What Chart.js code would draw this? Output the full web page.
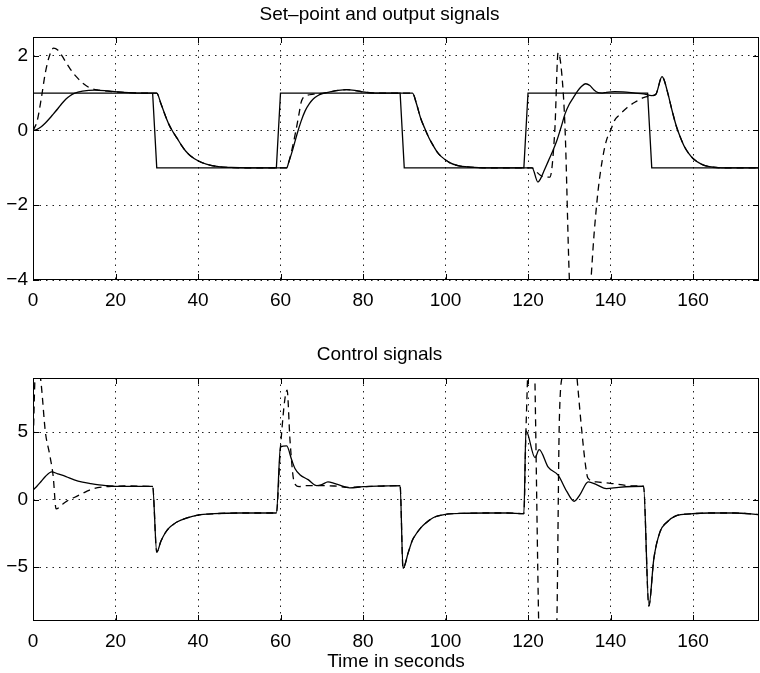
<!DOCTYPE html>
<html>
<head>
<meta charset="utf-8">
<script src="https://cdn.jsdelivr.net/npm/chart.js@4/dist/chart.umd.min.js"></script>
<style>
  body { margin: 0; background: #fff; }
  #wrap { position: relative; width: 760px; height: 673px; }
  canvas { position: absolute; left: 0; }
</style>
</head>
<body>
<div id="wrap">
  <canvas id="top" width="760" height="340" style="top:0"></canvas>
  <canvas id="bottom" width="760" height="333" style="top:340px"></canvas>
</div>
<script>
// tick labels
const timeTicks = [0, 20, 40, 60, 80, 100, 120, 140, 160];
const outputTicks = [-4, -2, 0, 2];
const controlTicks = [-5, 0, 5];

// [time, value] pairs
const setpoint = [[0,1],[29,1],[30,-1],[59,-1],[60,1],[89,1],[90,-1],[119,-1],[120,1],[149,1],[150,-1],[176,-1]];

const outputSolid = [[0,0],[1,0.03],[2,0.1],[3,0.2],[4,0.32],[5,0.45],[6,0.58],[7,0.72],[8,0.84],[9,0.93],[10,0.99],
  [12,1.05],[15,1.08],[18,1.06],[22,1.02],[26,1.0],[30,1.0],[31,0.72],[32,0.42],[33,0.15],[34,-0.05],[35,-0.22],
  [36,-0.4],[37,-0.55],[38,-0.66],[40,-0.81],[42,-0.9],[45,-0.97],[48,-0.99],[52,-1.0],[61.5,-1.0],[62,-0.85],
  [63,-0.5],[64,-0.1],[65,0.25],[66,0.53],[67,0.72],[68,0.85],[69,0.93],[70,0.98],[72,1.03],[74,1.07],[76,1.09],
  [78,1.07],[80,1.03],[83,1.0],[92,1.0],[93,0.7],[94,0.32],[95,0.05],[96,-0.2],[97,-0.4],[98,-0.58],[99,-0.7],
  [101,-0.86],[103,-0.94],[106,-0.98],[110,-1.0],[121,-1.0],[122.4,-1.38],[123,-1.3],[124,-1.05],[125,-0.8],
  [126,-0.55],[127,-0.27],[128,0.08],[129,0.45],[130,0.7],[131,0.88],[132,1.05],[133,1.18],[134,1.25],[135,1.2],
  [136,1.08],[137,1.01],[138,1.0],[139,1.02],[141,1.04],[143,1.03],[146,1.0],[148,0.98],[150,0.93],[151,0.97],
  [152.5,1.44],[153,1.35],[154,0.95],[155,0.5],[156,0.1],[157,-0.2],[158,-0.45],[159,-0.62],[160,-0.75],
  [162,-0.9],[164,-0.97],[167,-1.0],[176,-1.0]];

const outputDashed = [[0,0],[1,0.25],[2,0.85],[3,1.55],[4,2.0],[5,2.2],[6,2.15],[7,2.0],[8,1.82],[9,1.65],[10,1.5],
  [11,1.38],[12,1.27],[13,1.19],[14,1.13],[16,1.08],[19,1.04],[22,1.02],[26,1.0],[30,1.0],[31,0.72],[32,0.42],
  [33,0.15],[34,-0.05],[35,-0.22],[36,-0.4],[37,-0.55],[38,-0.66],[40,-0.81],[42,-0.9],[45,-0.97],[48,-0.99],
  [52,-1.0],[61.5,-1.0],[62,-0.85],[63,-0.4],[64,0.15],[64.5,0.45],[65,0.75],[65.5,0.88],[66.5,0.94],[68,0.97],
  [70,0.99],[72,1.03],[74,1.07],[76,1.09],[78,1.07],[80,1.03],[83,1.0],[92,1.0],[93,0.7],[94,0.32],[95,0.05],
  [96,-0.2],[97,-0.4],[98,-0.58],[99,-0.7],[101,-0.86],[103,-0.94],[106,-0.98],[110,-1.0],[121,-1.0],[122,-1.1],
  [123,-1.2],[124,-1.25],[125.3,-1.25],[126.5,0],[127.3,2.08],[128.2,1.5],[129,0],[130,-3.9],[131,-6],[132,-7.5],
  [133,-7],[134,-5.5],[135,-4.4],[136,-2.8],[137,-1.6],[138,-0.8],[139,-0.27],[140,0.0],[141,0.27],[142,0.4],
  [144,0.61],[146,0.76],[148,0.88],[150,0.93],[151,0.97],[152.5,1.44],[153,1.35],[154,0.95],[155,0.5],[156,0.1],
  [157,-0.2],[158,-0.45],[159,-0.62],[160,-0.75],[162,-0.9],[164,-0.97],[167,-1.0],[176,-1.0]];

const controlSolid = [[0,0.7],[1,1.0],[2,1.35],[3,1.7],[4.5,2.05],[6,1.9],[8,1.7],[10,1.45],[12,1.28],[14,1.17],
  [16,1.08],[18,1.02],[20,0.97],[29,0.97],[30,-3.9],[31,-3.1],[32,-2.5],[33,-2.1],[34,-1.85],[35,-1.65],[37,-1.4],
  [40,-1.15],[44,-1.05],[50,-1.0],[59,-1.0],[60,3.9],[61.5,3.97],[62.7,2.94],[63.5,2.3],[64.7,1.84],[66.7,1.47],
  [68.8,1.03],[70,1.1],[71.5,1.3],[73,1.2],[74,1.1],[76.8,0.86],[80,0.95],[85,1.0],[89,1.03],[89.7,-5.1],[91,-3.9],
  [92,-3.0],[93,-2.5],[94,-2.1],[95,-1.8],[97,-1.35],[100,-1.1],[105,-1.02],[110,-1.0],[115,-1.0],[119,-1.05],
  [119.5,5.1],[121.7,3.1],[122.7,3.7],[124.9,2.4],[127.3,1.8],[129.4,0.6],[131.2,-0.13],[132.6,0.36],[134.6,1.3],
  [136.6,1.1],[139,0.8],[142,0.9],[148,0.98],[149.3,-7.9],[150.5,-4.4],[152,-2.4],[153.6,-1.7],[156,-1.2],
  [159.3,-1.07],[164,-1.0],[170,-1.0],[176,-1.12]];

const controlDashed = [[0,3.7],[0.6,9.6],[1.3,10],[2,8.5],[3,5.0],[4,3.4],[4.9,1.7],[5.6,-0.7],[7,-0.4],[8.2,-0.12],
  [10,0.15],[11.4,0.36],[13,0.6],[14.6,0.8],[17,0.93],[19,0.98],[22,1.0],[29,0.97],[30,-3.9],[31,-3.1],[32,-2.5],
  [33,-2.1],[34,-1.85],[35,-1.65],[37,-1.4],[40,-1.15],[44,-1.05],[50,-1.0],[59,-1.0],[60,3.9],[61.6,8.1],
  [62.3,4.4],[63.3,1.3],[64.5,0.95],[66,1.02],[69,1.03],[73,1.0],[76.8,0.9],[80,0.95],[85,1.0],[89,1.03],
  [89.7,-5.1],[91,-3.9],[92,-3.0],[93,-2.5],[94,-2.1],[95,-1.8],[97,-1.35],[100,-1.1],[105,-1.02],[110,-1.0],
  [115,-1.0],[119,-1.05],[119.5,5.1],[121,16],[123,-14],[125,-18],[127,-9],[127.6,5.9],[128.5,9.5],[130,14],
  [131,12],[132,8.6],[133,5.2],[134,2.4],[134.5,1.6],[136.6,1.3],[140,1.2],[145.5,1.0],[148,0.98],[149.3,-7.9],
  [150.5,-4.4],[152,-2.4],[153.6,-1.7],[156,-1.2],[159.3,-1.07],[164,-1.0],[170,-1.0],[176,-1.12]];

const FONT = 'Liberation Sans, Arial, Helvetica, sans-serif';
const pts = arr => arr.map(([x, y]) => ({x, y}));
const minus = v => (v < 0 ? '\u2212' + Math.abs(v) : String(v));

// box round the plot area with inward tick marks, like the original
const framePlugin = {
  id: 'frame',
  afterDatasetsDraw(chart) {
    const {ctx, chartArea: a, scales} = chart;
    ctx.save();
    ctx.strokeStyle = '#000';
    ctx.lineWidth = 1;
    ctx.strokeRect(a.left + 0.5, a.top + 0.5, a.right - a.left - 1, a.bottom - a.top - 1);
    ctx.beginPath();
    scales.x.ticks.forEach(t => {
      const px = Math.round(scales.x.getPixelForValue(t.value)) + 0.5;
      ctx.moveTo(px, a.bottom); ctx.lineTo(px, a.bottom - 6);
      ctx.moveTo(px, a.top); ctx.lineTo(px, a.top + 6);
    });
    scales.y.ticks.forEach(t => {
      const py = Math.round(scales.y.getPixelForValue(t.value)) + 0.5;
      ctx.moveTo(a.left, py); ctx.lineTo(a.left + 6, py);
      ctx.moveTo(a.right, py); ctx.lineTo(a.right - 6, py);
    });
    ctx.stroke();
    ctx.restore();
  }
};

function lineSet(data, dashed, smooth) {
  return {
    data: pts(data),
    borderColor: '#000',
    borderWidth: 1.3,
    borderDash: dashed ? [7, 5] : [],
    pointRadius: 0,
    fill: false,
    cubicInterpolationMode: smooth ? 'monotone' : 'default',
    tension: 0,
    clip: 0
  };
}

function makeChart(id, opts) {
  return new Chart(document.getElementById(id), {
    type: 'line',
    data: { datasets: opts.datasets },
    options: {
      responsive: false,
      animation: false,
      layout: { padding: { left: 0, right: 1, top: 0, bottom: 0 } },
      plugins: {
        legend: { display: false },
        tooltip: { enabled: false },
        title: {
          display: true,
          text: opts.title,
          color: '#000',
          font: { family: FONT, size: 19, weight: 'normal' },
          padding: { top: 3.6, bottom: opts.titleGap }
        }
      },
      scales: {
        x: {
          type: 'linear',
          min: 0,
          max: 176,
          afterBuildTicks: s => { s.ticks = timeTicks.map(v => ({value: v})); },
          afterFit: s => { s.height = opts.xHeight; },
          grid: { color: '#222', lineWidth: 1, drawTicks: false },
          border: { display: false, dash: [1.5, 5] },
          ticks: { color: '#000', padding: 9, maxRotation: 0, font: { family: FONT, size: 19 } },
          title: {
            display: !!opts.xTitle,
            text: opts.xTitle || '',
            color: '#000',
            font: { family: FONT, size: 19 },
            padding: { top: 0, bottom: 0 }
          }
        },
        y: {
          min: opts.yMin,
          max: opts.yMax,
          afterBuildTicks: s => { s.ticks = opts.yTicks.map(v => ({value: v})); },
          afterFit: s => { s.width = 33; },
          grid: { color: '#222', lineWidth: 1, drawTicks: false },
          border: { display: false, dash: [1.5, 5] },
          ticks: { color: '#000', padding: 5, callback: minus, font: { family: FONT, size: 19 } }
        }
      }
    },
    plugins: [framePlugin]
  });
}

makeChart('top', {
  title: 'Set\u2013point and output signals',
  titleGap: 10.6,
  xHeight: 60,
  yMin: -4,
  yMax: 2.5,
  yTicks: outputTicks,
  datasets: [
    lineSet(setpoint, false, false),
    lineSet(outputSolid, false, true),
    lineSet(outputDashed, true, true)
  ]
});

makeChart('bottom', {
  title: 'Control signals',
  titleGap: 11.6,
  xHeight: 52,
  xTitle: 'Time in seconds',
  yMin: -9,
  yMax: 9,
  yTicks: controlTicks,
  datasets: [
    lineSet(controlSolid, false, true),
    lineSet(controlDashed, true, true)
  ]
});
</script>
</body>
</html>
